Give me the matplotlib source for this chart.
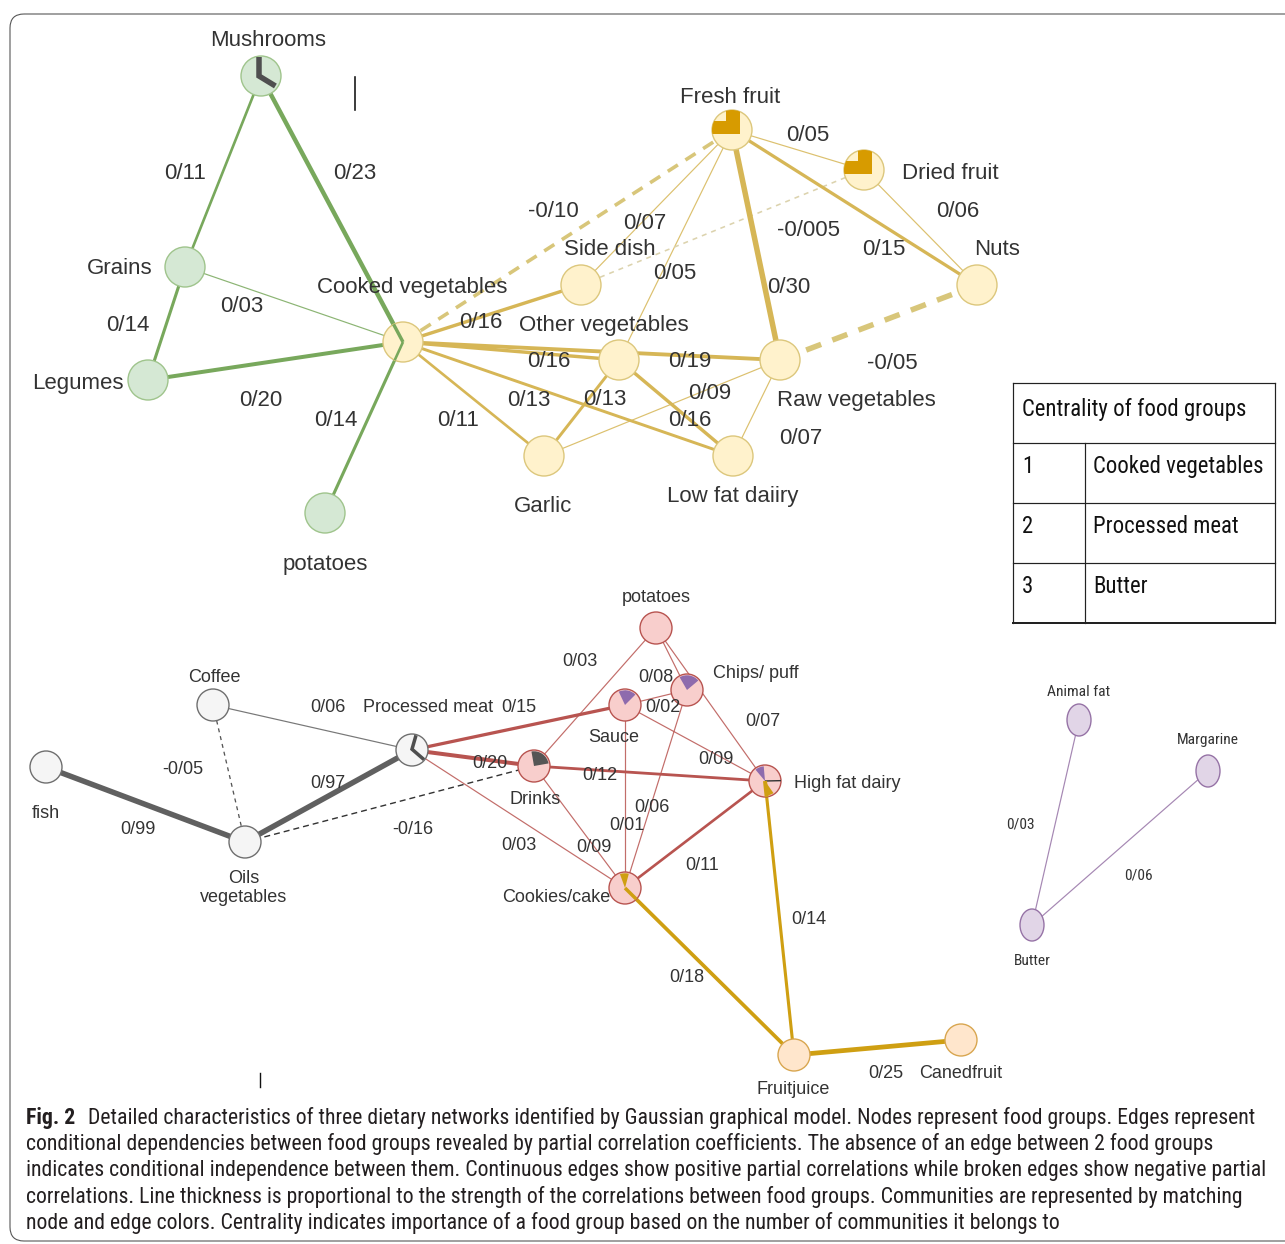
import matplotlib
matplotlib.use("Agg")
import matplotlib.pyplot as plt
from matplotlib import font_manager
from matplotlib.patches import Circle, Ellipse, FancyBboxPatch, Polygon, Wedge
import numpy as np

plt.rcParams["lines.scale_dashes"] = False

# ------------------------------------------------------------------ data
green_nodes = ["Mushrooms", "Grains", "Legumes", "potatoes (g)"]
yellow_nodes = ["Cooked vegetables", "Fresh fruit", "Dried fruit", "Nuts", "Side dish",
                "Other vegetables", "Raw vegetables", "Garlic", "Low fat daiiry"]
grey_nodes = ["Coffee", "fish", "Oils vegetables", "Processed meat"]
red_nodes = ["potatoes (r)", "Chips/ puff", "Sauce", "Drinks", "High fat dairy", "Cookies/cake"]
orange_nodes = ["Fruitjuice", "Canedfruit"]
purple_nodes = ["Animal fat", "Margarine", "Butter"]

node_text = {"potatoes (g)": "potatoes", "potatoes (r)": "potatoes",
             "Oils vegetables": "Oils\nvegetables"}

# partial correlations, written as in the figure (slash = decimal mark)
green_edges = [
    ("Mushrooms", "Grains", "0/11"),
    ("Mushrooms", "Cooked vegetables", "0/23"),
    ("Grains", "Legumes", "0/14"),
    ("Grains", "Cooked vegetables", "0/03"),
    ("Legumes", "Cooked vegetables", "0/20"),
    ("potatoes (g)", "Cooked vegetables", "0/14"),
]
yellow_edges = [
    ("Cooked vegetables", "Fresh fruit", "-0/10"),
    ("Cooked vegetables", "Side dish", "0/16"),
    ("Cooked vegetables", "Other vegetables", "0/16"),
    ("Cooked vegetables", "Raw vegetables", "0/19"),
    ("Cooked vegetables", "Low fat daiiry", "0/13"),
    ("Cooked vegetables", "Garlic", "0/11"),
    ("Fresh fruit", "Side dish", "0/07"),
    ("Fresh fruit", "Other vegetables", "0/05"),
    ("Fresh fruit", "Raw vegetables", "0/30"),
    ("Fresh fruit", "Dried fruit", "0/05"),
    ("Fresh fruit", "Nuts", "0/15"),
    ("Dried fruit", "Nuts", "0/06"),
    ("Dried fruit", "Side dish", "-0/005"),
    ("Raw vegetables", "Nuts", "-0/05"),
    ("Other vegetables", "Garlic", "0/13"),
    ("Other vegetables", "Low fat daiiry", "0/16"),
    ("Garlic", "Raw vegetables", "0/09"),
    ("Raw vegetables", "Low fat daiiry", "0/07"),
]
grey_edges = [
    ("fish", "Oils vegetables", "0/99"),
    ("Oils vegetables", "Processed meat", "0/97"),
    ("Coffee", "Processed meat", "0/06"),
    ("Coffee", "Oils vegetables", "-0/05"),
    ("Oils vegetables", "Drinks", "-0/16"),
]
red_edges = [
    ("Processed meat", "Sauce", "0/15"),
    ("Processed meat", "Drinks", "0/20"),
    ("Processed meat", "Cookies/cake", "0/03"),
    ("potatoes (r)", "Drinks", "0/03"),
    ("potatoes (r)", "Chips/ puff", "0/08"),
    ("potatoes (r)", "High fat dairy", "0/07"),
    ("Sauce", "Chips/ puff", "0/02"),
    ("Sauce", "High fat dairy", "0/09"),
    ("Sauce", "Cookies/cake", "0/01"),
    ("Chips/ puff", "Cookies/cake", "0/06"),
    ("Drinks", "High fat dairy", "0/12"),
    ("Drinks", "Cookies/cake", "0/09"),
    ("High fat dairy", "Cookies/cake", "0/11"),
]
gold_edges = [
    ("Cookies/cake", "Fruitjuice", "0/18"),
    ("High fat dairy", "Fruitjuice", "0/14"),
    ("Fruitjuice", "Canedfruit", "0/25"),
]
purple_edges = [
    ("Butter", "Animal fat", "0/03"),
    ("Butter", "Margarine", "0/06"),
]

centrality_rank = ["1", "2", "3"]
centrality_group = ["Cooked vegetables", "Processed meat", "Butter"]

caption_lines = [
    "Detailed characteristics of three dietary networks identified by Gaussian graphical model. Nodes represent food groups. Edges represent",
    "conditional dependencies between food groups revealed by partial correlation coefficients. The absence of an edge between 2 food groups",
    "indicates conditional independence between them. Continuous edges show positive partial correlations while broken edges show negative partial",
    "correlations. Line thickness is proportional to the strength of the correlations between food groups. Communities are represented by matching",
    "node and edge colors. Centrality indicates importance of a food group based on the number of communities it belongs to",
]

# ------------------------------------------------------------------ layout (pixel space)
pos = {
    "Mushrooms": (261, 76), "Grains": (185, 267), "Legumes": (148, 380),
    "potatoes (g)": (325, 513), "Cooked vegetables": (403, 342),
    "Fresh fruit": (732, 130), "Dried fruit": (864, 170), "Nuts": (977, 285),
    "Side dish": (581, 285), "Other vegetables": (619, 360), "Raw vegetables": (780, 360),
    "Garlic": (544, 456), "Low fat daiiry": (733, 456),
    "Coffee": (213, 705), "fish": (46, 767), "Oils vegetables": (245, 842),
    "Processed meat": (412, 750),
    "potatoes (r)": (656, 628), "Chips/ puff": (687, 690), "Sauce": (625, 705),
    "Drinks": (534, 766), "High fat dairy": (765, 781), "Cookies/cake": (625, 888),
    "Fruitjuice": (794, 1055), "Canedfruit": (961, 1040),
    "Animal fat": (1079, 720), "Margarine": (1208, 771), "Butter": (1032, 925),
}
label_pos = {
    "Mushrooms": (268, 38), "Grains": (120, 266), "Legumes": (78, 381),
    "potatoes (g)": (325, 562), "Cooked vegetables": (412, 285),
    "Fresh fruit": (730, 95), "Dried fruit": (950, 171), "Nuts": (997, 247),
    "Side dish": (610, 247), "Other vegetables": (604, 323), "Raw vegetables": (856, 398),
    "Garlic": (543, 504), "Low fat daiiry": (733, 494),
    "Coffee": (214, 675), "fish": (46, 812), "Oils vegetables": (244, 888),
    "Processed meat": (428, 706),
    "potatoes (r)": (656, 595), "Chips/ puff": (756, 672), "Sauce": (614, 736),
    "Drinks": (535, 797), "High fat dairy": (847, 782), "Cookies/cake": (556, 895),
    "Fruitjuice": (793, 1087), "Canedfruit": (961, 1071),
    "Animal fat": (1079, 690), "Margarine": (1208, 738), "Butter": (1032, 959),
}
edge_label_pos = {
    ("Mushrooms", "Grains"): (185, 171), ("Mushrooms", "Cooked vegetables"): (355, 171),
    ("Grains", "Legumes"): (128, 323), ("Grains", "Cooked vegetables"): (242, 304),
    ("Legumes", "Cooked vegetables"): (261, 398), ("potatoes (g)", "Cooked vegetables"): (336, 418),
    ("Cooked vegetables", "Fresh fruit"): (553, 209), ("Cooked vegetables", "Side dish"): (481, 320),
    ("Cooked vegetables", "Other vegetables"): (549, 359),
    ("Cooked vegetables", "Raw vegetables"): (690, 359),
    ("Cooked vegetables", "Low fat daiiry"): (529, 398), ("Cooked vegetables", "Garlic"): (458, 418),
    ("Fresh fruit", "Side dish"): (645, 221), ("Fresh fruit", "Other vegetables"): (675, 271),
    ("Fresh fruit", "Raw vegetables"): (789, 285), ("Fresh fruit", "Dried fruit"): (808, 133),
    ("Fresh fruit", "Nuts"): (884, 247), ("Dried fruit", "Nuts"): (958, 209),
    ("Dried fruit", "Side dish"): (808, 228), ("Raw vegetables", "Nuts"): (892, 361),
    ("Other vegetables", "Garlic"): (605, 397), ("Other vegetables", "Low fat daiiry"): (690, 418),
    ("Garlic", "Raw vegetables"): (710, 391), ("Raw vegetables", "Low fat daiiry"): (801, 436),
    ("fish", "Oils vegetables"): (138, 828), ("Oils vegetables", "Processed meat"): (328, 782),
    ("Coffee", "Processed meat"): (328, 706), ("Coffee", "Oils vegetables"): (183, 767),
    ("Oils vegetables", "Drinks"): (413, 828),
    ("Processed meat", "Sauce"): (519, 706), ("Processed meat", "Drinks"): (490, 762),
    ("Processed meat", "Cookies/cake"): (519, 843), ("potatoes (r)", "Drinks"): (580, 660),
    ("potatoes (r)", "Chips/ puff"): (656, 675), ("potatoes (r)", "High fat dairy"): (763, 720),
    ("Sauce", "Chips/ puff"): (663, 705), ("Sauce", "High fat dairy"): (716, 757),
    ("Sauce", "Cookies/cake"): (627, 823), ("Chips/ puff", "Cookies/cake"): (652, 806),
    ("Drinks", "High fat dairy"): (600, 773), ("Drinks", "Cookies/cake"): (594, 846),
    ("High fat dairy", "Cookies/cake"): (702, 864),
    ("Cookies/cake", "Fruitjuice"): (687, 976), ("High fat dairy", "Fruitjuice"): (809, 918),
    ("Fruitjuice", "Canedfruit"): (886, 1071),
    ("Butter", "Animal fat"): (1020, 823), ("Butter", "Margarine"): (1138, 874),
}

# ------------------------------------------------------------------ styles
PX = 0.72  # points per pixel at 100 dpi

community = {
    "green":  dict(nodes=green_nodes, edges=green_edges, fill="#d5e8d4", stroke="#9fc48c",
                   line="#78a85c", r=20, size=16),
    "yellow": dict(nodes=yellow_nodes, edges=yellow_edges, fill="#fff2cc", stroke="#dcc77c",
                   line="#d6b656", r=20, size=16),
    "grey":   dict(nodes=grey_nodes, edges=grey_edges, fill="#f5f5f5", stroke="#6f6f6f",
                   line="#606060", r=16, size=13),
    "red":    dict(nodes=red_nodes, edges=red_edges, fill="#f8cecc", stroke="#b85450",
                   line="#b85450", r=16, size=13),
    "orange": dict(nodes=orange_nodes, edges=gold_edges, fill="#ffe6cc", stroke="#d8a650",
                   line="#cf9f12", r=16, size=13),
    "purple": dict(nodes=purple_nodes, edges=purple_edges, fill="#e1d5e7", stroke="#9673a6",
                   line="#9673a6", r=16, size=None),
}

# broken (negative) edges: width in px, dash pattern in px, colour override
broken_style = {
    ("Cooked vegetables", "Fresh fruit"): dict(w=3.6, dash=(12, 9), color="#d8c67a"),
    ("Dried fruit", "Side dish"): dict(w=1.6, dash=(5, 5), color="#dcd3ae"),
    ("Raw vegetables", "Nuts"): dict(w=5.5, dash=(16, 12), color="#d8c67a"),
    ("Coffee", "Oils vegetables"): dict(w=1.3, dash=(4, 4), color="#555555"),
    ("Oils vegetables", "Drinks"): dict(w=1.4, dash=(6, 4), color="#333333"),
}

LABEL_FONT = "Liberation Sans"
names = {f.name for f in font_manager.fontManager.ttflist}
narrow = dict(family=LABEL_FONT)
for cand in ["Liberation Sans Narrow", "Roboto Condensed", "Open Sans Condensed"]:
    if cand in names:
        narrow = dict(family=cand)
        break
else:
    if any(f.name == "DejaVu Sans" and f.stretch == "condensed" for f in font_manager.fontManager.ttflist):
        narrow = dict(family="DejaVu Sans", stretch="condensed")


def corr(s):
    return float(s.replace("/", "."))


def edge_px(v):
    return 1.2 if abs(v) < 0.1 else min(1.0 + 15 * abs(v), 5.5)


# ------------------------------------------------------------------ figure
W, H = 1285, 1244
fig = plt.figure(figsize=(W / 100, H / 100), dpi=100)
ax = fig.add_axes([0, 0, 1, 1])
ax.set_xlim(0, W)
ax.set_ylim(H, 0)
ax.axis("off")
renderer = fig.canvas.get_renderer()

node_of = {}
for cname, c in community.items():
    for n in c["nodes"]:
        node_of[n] = cname


def label(x, y, s, size, color="#333333", ha="center", font=None, **kw):
    font = font or dict(family=LABEL_FONT)
    cap = 0.36 * size / PX
    return ax.text(x, y + cap, s, fontsize=size, color=color, ha=ha, va="baseline",
                   zorder=6, **font, **kw)


# edges
for cname, c in community.items():
    for a, b, txt in c["edges"]:
        v = corr(txt)
        (x1, y1), (x2, y2) = pos[a], pos[b]
        if (a, b) in broken_style:
            st = broken_style[(a, b)]
            ax.plot([x1, x2], [y1, y2], color=st["color"], lw=st["w"] * PX,
                    linestyle=(0, (st["dash"][0] * PX, st["dash"][1] * PX)),
                    solid_capstyle="butt", dash_capstyle="butt", zorder=1)
        else:
            w = edge_px(v)
            ax.plot([x1, x2], [y1, y2], color=c["line"], lw=w * PX,
                    alpha=0.85 if w < 2 else 1.0, solid_capstyle="butt", zorder=1.5 if w > 2 else 1)

# nodes
patch = {}
for cname, c in community.items():
    for n in c["nodes"]:
        x, y = pos[n]
        if cname == "purple":
            p = Ellipse((x, y), 24, 32, fc=c["fill"], ec=c["stroke"], lw=1.0, zorder=3)
        else:
            p = Circle((x, y), c["r"], fc=c["fill"], ec=c["stroke"], lw=1.0, zorder=3)
        ax.add_patch(p)
        patch[n] = p


def rpt(n, u, v):
    x, y = pos[n]
    r = community[node_of[n]]["r"]
    return x + u * r, y - v * r


def mark_line(n, pts, color, w):
    xy = np.array([rpt(n, u, v) for u, v in pts])
    ax.plot(xy[:, 0], xy[:, 1], color=color, lw=w * PX, solid_capstyle="butt",
            solid_joinstyle="miter", zorder=4)


def mark_poly(n, pts, color):
    poly = Polygon([rpt(n, u, v) for u, v in pts], closed=True, fc=color, ec="none", zorder=4)
    ax.add_patch(poly)
    poly.set_clip_path(patch[n])


def mark_wedge(n, a1, a2, color, frac=0.92):
    x, y = pos[n]
    r = community[node_of[n]]["r"]
    wd = Wedge((x, y), r * frac, -a2, -a1, fc=color, ec="none", zorder=4)
    ax.add_patch(wd)


def mark_spoke(n, other, color, w):
    x, y = pos[n]
    ox, oy = pos[other]
    d = np.hypot(ox - x, oy - y)
    r = community[node_of[n]]["r"]
    ax.plot([x, x + (ox - x) / d * r], [y, y + (oy - y) / d * r], color=color,
            lw=w * PX, solid_capstyle="butt", zorder=4)


# shared-community markers inside nodes
mark_line("Mushrooms", [(-0.1, 0.95), (-0.1, 0.0), (0.72, -0.5)], "#4f4f4f", 5.5)
mark_spoke("Cooked vegetables", "Mushrooms", "#78a85c", 3.4)
mark_spoke("Cooked vegetables", "potatoes (g)", "#78a85c", 2.6)
L_shape = [(-0.3, 1.2), (0.4, 1.2), (0.4, -0.2), (-1.2, -0.2), (-1.2, 0.45), (-0.3, 0.45)]
mark_poly("Fresh fruit", L_shape, "#d79b00")
mark_poly("Dried fruit", L_shape, "#d79b00")
mark_line("Processed meat", [(0.25, 0.92), (0.0, 0.05), (0.75, -0.6)], "#4f4f4f", 3.5)
mark_wedge("Drinks", 10, 100, "#555555")
mark_wedge("Sauce", 45, 115, "#8e6bad")
mark_wedge("Chips/ puff", 40, 120, "#8e6bad")
mark_wedge("High fat dairy", 95, 130, "#8e6bad")
mark_spoke("High fat dairy", "Margarine", "#333333", 1.4)
mark_spoke("High fat dairy", "Fruitjuice", "#cf9f12", 4.0)
mark_wedge("High fat dairy", 280, 305, "#cf9f12")
mark_wedge("Cookies/cake", 75, 110, "#cf9f12")
mark_spoke("Cookies/cake", "Fruitjuice", "#cf9f12", 3.5)

# node labels
purple_size = None
for cname, c in community.items():
    for n in c["nodes"]:
        x, y = label_pos[n]
        s = node_text.get(n, n)
        if cname == "purple":
            if purple_size is None:
                t = label(x, y, "Animal fat", 12, font=narrow)
                purple_size = 12 * 63 / t.get_window_extent(renderer).width
                t.remove()
            label(x, y, s, purple_size, font=narrow)
        elif "\n" in s:
            ax.text(x, y, s, fontsize=c["size"], color="#333333", ha="center", va="center",
                    family=LABEL_FONT, linespacing=1.15, zorder=6)
        else:
            label(x, y, s, c["size"])

# edge labels
for cname, c in community.items():
    for a, b, txt in c["edges"]:
        x, y = edge_label_pos[(a, b)]
        if cname == "purple":
            label(x, y, txt, purple_size, font=narrow)
        else:
            label(x, y, txt, c["size"])

# stray cursor marks
ax.plot([355, 355], [77, 110], color="#111111", lw=1.6 * PX, zorder=5)
ax.plot([260, 260], [1073, 1087], color="#111111", lw=1.4 * PX, zorder=5)

# centrality table
tx0, tx1, tdiv = 1013, 1275, 1085
rows_y = [383, 443, 503, 563, 623]
for yy in rows_y[:-1]:
    ax.plot([tx0, tx1], [yy, yy], color="#222222", lw=1.2 * PX, zorder=5)
ax.plot([tx0, tx1], [rows_y[-1], rows_y[-1]], color="#222222", lw=2.0 * PX, zorder=5)
ax.plot([tx0, tx0], [rows_y[0], rows_y[-1]], color="#222222", lw=1.2 * PX, zorder=5)
ax.plot([tx1, tx1], [rows_y[0], rows_y[-1]], color="#222222", lw=1.2 * PX, zorder=5)
ax.plot([tdiv, tdiv], [rows_y[1], rows_y[-1]], color="#222222", lw=1.2 * PX, zorder=5)

t = ax.text(1022, 416, "Centrality of food groups", fontsize=16, color="#111111",
            ha="left", va="baseline", zorder=6, **narrow)
tsize = 1.2 * 16 * 187 / t.get_window_extent(renderer).width
t.set_fontsize(tsize)
for i, (rk, grp) in enumerate(zip(centrality_rank, centrality_group)):
    yb = rows_y[i + 1] + 30
    ax.text(1022, yb, rk, fontsize=tsize, color="#111111", ha="left", va="baseline",
            zorder=6, **narrow)
    ax.text(1093, yb, grp, fontsize=tsize, color="#111111", ha="left", va="baseline",
            zorder=6, **narrow)

# caption
cap_base = [1124, 1150, 1176, 1203, 1229]
probe = ax.text(26, cap_base[2], caption_lines[2], fontsize=12, ha="left", va="baseline", **narrow)
csize = 12 * (1272 - 26) / probe.get_window_extent(renderer).width
probe.remove()
ax.text(26, cap_base[0], "Fig. 2", fontsize=csize, fontweight="bold", color="#231f20",
        ha="left", va="baseline", zorder=6, **narrow)
for i, line in enumerate(caption_lines):
    x0 = 88 if i == 0 else 26
    ax.text(x0, cap_base[i], line, fontsize=csize, color="#231f20", ha="left",
            va="baseline", zorder=6, **narrow)

# rounded frame
frame = FancyBboxPatch((10, 14), 1320, 1227, boxstyle="round,pad=0,rounding_size=14",
                       fc="none", ec="#555555", lw=1.1 * PX, zorder=0)
ax.add_patch(frame)

fig.savefig("out.png", dpi=100)
